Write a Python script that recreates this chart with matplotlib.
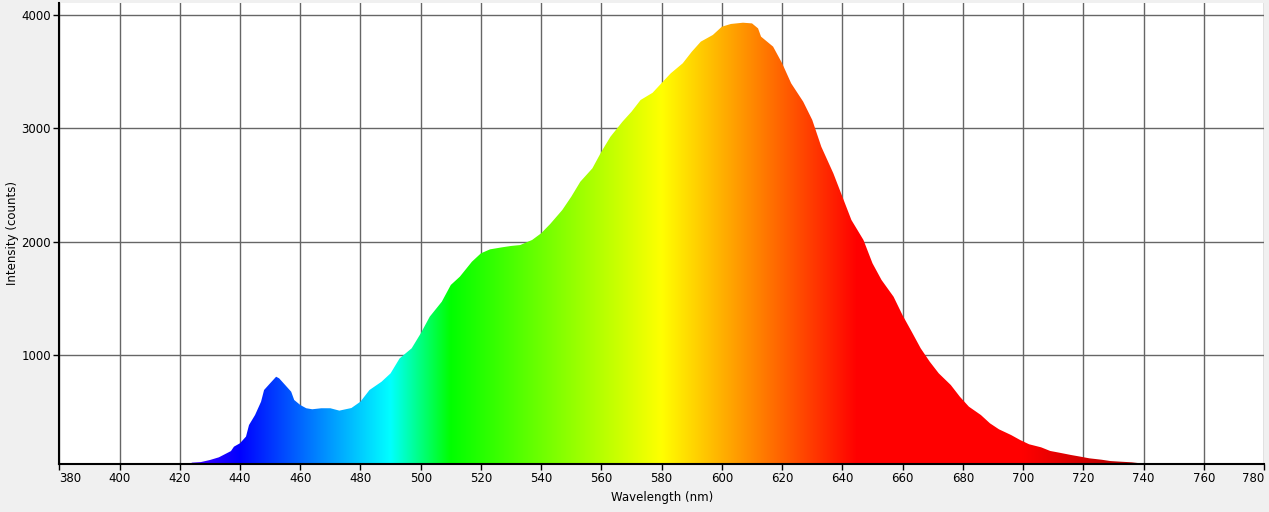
import numpy as np
import matplotlib
matplotlib.use("Agg")
import matplotlib.pyplot as plt
from matplotlib.patches import Polygon

# ---- data ----
wavelength = [423, 424, 427, 430, 433, 437, 438, 440, 442, 443, 445, 447, 448, 450,
              452, 453, 455, 457, 458, 460, 462, 464, 467, 470, 473, 477, 480, 483,
              487, 490, 493, 497, 500, 503, 507, 510, 513, 517, 520, 523, 527, 530,
              533, 537, 540, 543, 547, 550, 553, 557, 560, 563, 567, 570, 573, 577,
              580, 583, 587, 590, 593, 597, 600, 603, 607, 610, 612, 613, 617, 620,
              623, 627, 630, 633, 637, 640, 643, 647, 650, 653, 657, 660, 663, 666,
              669, 672, 676, 679, 682, 686, 689, 692, 696, 699, 702, 706, 709, 712,
              716, 719, 722, 726, 729, 732, 736, 739, 742, 745, 746]
intensity = [0, 50, 55, 73, 97, 152, 191, 221, 280, 382, 470, 588, 691, 750,
             808, 794, 735, 676, 603, 559, 530, 521, 530, 530, 509, 532, 588, 691,
             764, 838, 970, 1059, 1190, 1338, 1470, 1618, 1691, 1823, 1897, 1932, 1950, 1962,
             1970, 2015, 2074, 2156, 2279, 2397, 2529, 2647, 2794, 2926, 3059, 3147, 3250, 3314,
             3400, 3485, 3574, 3676, 3765, 3824, 3897, 3921, 3932, 3926, 3882, 3809, 3721, 3574,
             3397, 3235, 3074, 2838, 2603, 2397, 2191, 2015, 1809, 1662, 1514, 1350, 1206, 1059,
             941, 838, 735, 632, 544, 470, 397, 344, 294, 250, 212, 185, 153, 138,
             117, 103, 88, 76, 64, 59, 53, 44, 44, 42, 0]
x_ticks = list(range(380, 781, 20))
y_ticks = [1000, 2000, 3000, 4000]
x_label = "Wavelength (nm)"
y_label = "Intensity (counts)"


def wl_to_rgb(w):
    w = np.asarray(w, dtype=float)
    r = np.zeros_like(w); g = np.zeros_like(w); b = np.zeros_like(w)
    m = w < 440
    r[m] = -(w[m] - 440) / 60.0; b[m] = 1
    m = (w >= 440) & (w < 490)
    g[m] = (w[m] - 440) / 50.0; b[m] = 1
    m = (w >= 490) & (w < 510)
    g[m] = 1; b[m] = -(w[m] - 510) / 20.0
    m = (w >= 510) & (w < 580)
    r[m] = (w[m] - 510) / 70.0; g[m] = 1
    m = (w >= 580) & (w < 645)
    r[m] = 1; g[m] = -(w[m] - 645) / 65.0
    m = w >= 645
    r[m] = 1
    f = np.ones_like(w)
    m = w < 420
    f[m] = 0.3 + 0.7 * (w[m] - 380) / 40.0
    m = w > 700
    f[m] = 0.3 + 0.7 * (780 - w[m]) / 80.0
    return np.stack([r * f, g * f, b * f], axis=-1)


fig = plt.figure(figsize=(12.69, 5.12), dpi=100, facecolor="#f0f0f0")
ax = fig.add_axes([0.0467, 0.09375, 0.9494, 0.9004])
ax.set_facecolor("white")

x0, x1 = 380, 780
y0, y1 = 38, 4106
ax.set_xlim(x0, x1)
ax.set_ylim(y0, y1)

grid_w = np.linspace(x0, x1, 2400)
img = wl_to_rgb(grid_w)[np.newaxis, :, :]
im = ax.imshow(img, extent=[x0, x1, 0, y1], aspect="auto", origin="lower",
               interpolation="bilinear", zorder=2)

verts = list(zip(wavelength, intensity)) + [(wavelength[-1], 0), (wavelength[0], 0)]
poly = Polygon(verts, closed=True, facecolor="none", edgecolor="none")
ax.add_patch(poly)
im.set_clip_path(poly)

ax.set_xticks(x_ticks)
ax.set_yticks(y_ticks)
ax.grid(True, color="#666666", linewidth=1.0, zorder=0)
ax.set_axisbelow(True)

for s in ["top", "right"]:
    ax.spines[s].set_visible(False)
for s in ["left", "bottom"]:
    ax.spines[s].set_linewidth(1.5)
    ax.spines[s].set_color("black")
    ax.spines[s].set_zorder(5)

ax.tick_params(axis="both", direction="out", length=4, width=1, color="black",
               labelsize=8.5, pad=2)
xt = ax.get_xticklabels()
xt[0].set_horizontalalignment("left")
xt[-1].set_horizontalalignment("right")
ax.set_xlabel(x_label, fontsize=8.5, labelpad=4)
ax.set_ylabel(y_label, fontsize=8.5, labelpad=2)

fig.savefig("out.png", dpi=100, facecolor=fig.get_facecolor())
